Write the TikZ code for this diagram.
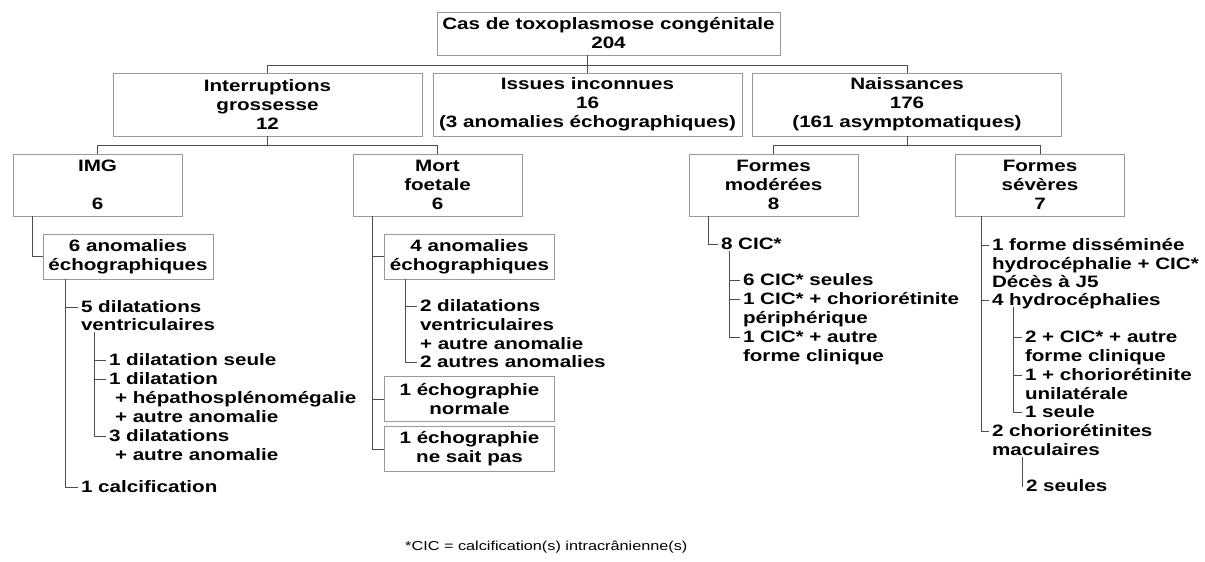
\documentclass[tikz,border=0pt]{standalone}
\usepackage{fontspec}
\setmainfont{Liberation Sans}[FakeStretch=1.25]
\usepackage{tikz}

\tikzset{
  boite/.style={draw=black!40, line width=0.8pt, align=center, inner sep=0pt,
    font=\fontsize{16.5}{19}\selectfont\bfseries},
  niv1/.style={boite, minimum width=309pt, minimum height=63pt},
  niv2/.style={boite, minimum width=169pt, minimum height=62pt},
  niv3/.style={boite, minimum width=170pt, minimum height=45pt},
  ligne/.style={anchor=west, inner sep=0pt, outer sep=0pt, outer xsep=3pt,
    text height=12pt, text depth=2pt,
    font=\fontsize{16.5}{19}\selectfont\bfseries},
  lien/.style={draw=black!70, line width=0.9pt},
}

\begin{document}
\begin{tikzpicture}[x=1pt,y=-1pt]
\useasboundingbox (0,0) rectangle (1205,562);

%% boxes
\node[boite, minimum width=343pt, minimum height=43pt] (cas) at (608.5,33.5) {Cas de toxoplasmose congénitale\\204};
\node[niv1] (inter)  at (267.5,104.5) {Interruptions\\grossesse\\12};
\node[niv1] (issues) at (587.5,104.5) {Issues inconnues\\16\\(3 anomalies échographiques)};
\node[niv1] (nais)   at (907,104.5)   {Naissances\\176\\(161 asymptomatiques)};
\node[niv2] (img)  at (97.5,185)  {IMG\\~\\6};
\node[niv2] (mort) at (437.5,185) {Mort\\foetale\\6};
\node[niv2] (mod)  at (773.5,185) {Formes\\modérées\\8};
\node[niv2] (sev)  at (1040,185)  {Formes\\sévères\\7};
\node[niv3] (anoA)  at (128,256.5)   {6 anomalies\\échographiques};
\node[niv3] (anoB)  at (469.5,256.5) {4 anomalies\\échographiques};
\node[niv3] (echoN) at (469.5,399)   {1 échographie\\normale};
\node[niv3] (echoS) at (469.5,449)   {1 échographie\\ne sait pas};

%% tree
\coordinate (h1) at (0,65);
\coordinate (h2) at (0,145);
\draw[lien] (issues.north) -- (issues.north |- cas.south);
\draw[lien] (inter.north) -- (inter.north |- h1) -- (nais.north |- h1) -- (nais.north);
\draw[lien] (inter.south) -- (inter.south |- h2);
\draw[lien] (img.north) -- (img.north |- h2) -- (mort.north |- h2) -- (mort.north);
\draw[lien] (nais.south) -- (nais.south |- h2);
\draw[lien] (mod.north) -- (mod.north |- h2) -- (sev.north |- h2) -- (sev.north);

%% IMG
\node[ligne] (d5)   at (78,307)  {5 dilatations};
\node[ligne] (d5b)  at (78,325)  {ventriculaires};
\node[ligne] (s1)   at (106,360) {1 dilatation seule};
\node[ligne] (s2)   at (106,379) {1 dilatation};
\node[ligne] (s2b)  at (112,398) {+ hépathosplénomégalie};
\node[ligne] (s2c)  at (112,417) {+ autre anomalie};
\node[ligne] (s3)   at (106,436) {3 dilatations};
\node[ligne] (s3b)  at (112,455) {+ autre anomalie};
\node[ligne] (calc) at (78,487)  {1 calcification};
\draw[lien] ([xshift=20pt]img.south west) |- (anoA.west);
\draw[lien] ([xshift=23pt]anoA.south west) |- (calc.west);
\draw[lien] ([xshift=23pt]anoA.south west) |- (d5.west);
\draw[lien] ([xshift=16pt]d5b.south west) |- (s3.west);
\draw[lien] ([xshift=16pt]d5b.south west) |- (s1.west);
\draw[lien] ([xshift=16pt]d5b.south west) |- (s2.west);

%% mort foetale
\node[ligne] (m1)  at (417,306) {2 dilatations};
\node[ligne] (m1b) at (417,325) {ventriculaires};
\node[ligne] (m1c) at (417,344) {+ autre anomalie};
\node[ligne] (m2)  at (417,362) {2 autres anomalies};
\draw[lien] ([xshift=20pt]mort.south west) |- (echoS.west);
\draw[lien] ([xshift=20pt]mort.south west) |- (anoB.west);
\draw[lien] ([xshift=20pt]mort.south west) |- (echoN.west);
\draw[lien] ([xshift=21pt]anoB.south west) |- (m2.west);
\draw[lien] ([xshift=21pt]anoB.south west) |- (m1.west);

%% formes moderees
\node[ligne] (cic) at (718,244) {8 CIC*};
\node[ligne] (c1)  at (740,280) {6 CIC* seules};
\node[ligne] (c2)  at (740,299) {1 CIC* + choriorétinite};
\node[ligne] (c2b) at (740,318) {périphérique};
\node[ligne] (c3)  at (740,337) {1 CIC* + autre};
\node[ligne] (c3b) at (740,356) {forme clinique};
\draw[lien] ([xshift=20pt]mod.south west) |- (cic.west);
\draw[lien] ([xshift=11pt]cic.south west) |- (c3.west);
\draw[lien] ([xshift=11pt]cic.south west) |- (c1.west);
\draw[lien] ([xshift=11pt]cic.south west) |- (c2.west);

%% formes severes
\node[ligne] (f1)  at (989,245)  {1 forme disséminée};
\node[ligne] (f1b) at (989,264)  {hydrocéphalie + CIC*};
\node[ligne] (f1c) at (989,282)  {Décès à J5};
\node[ligne] (f2)  at (989,300)  {4 hydrocéphalies};
\node[ligne] (h1)  at (1022,337) {2 + CIC* + autre};
\node[ligne] (h1b) at (1022,356) {forme clinique};
\node[ligne] (h2)  at (1022,375) {1 + choriorétinite};
\node[ligne] (h2b) at (1022,394) {unilatérale};
\node[ligne] (h3)  at (1022,412) {1 seule};
\node[ligne] (f3)  at (989,431)  {2 choriorétinites};
\node[ligne] (f3b) at (989,450)  {maculaires};
\node[ligne] (g1)  at (1023,486) {2 seules};
\draw[lien] ([xshift=26pt]sev.south west) |- (f3.west);
\draw[lien] ([xshift=26pt]sev.south west) |- (f1.west);
\draw[lien] ([xshift=26pt]sev.south west) |- (f2.west);
\draw[lien] ([xshift=24pt]f2.south west) |- (h3.west);
\draw[lien] ([xshift=24pt]f2.south west) |- (h1.west);
\draw[lien] ([xshift=24pt]f2.south west) |- (h2.west);
\draw[lien] ([xshift=33pt]f3b.south west) |- (g1.west);

%% note
\node[anchor=west, inner sep=0pt, font=\fontsize{13}{15}\selectfont] (note) at (405,547) {*CIC = calcification(s) intracrânienne(s)};
\end{tikzpicture}
\end{document}
